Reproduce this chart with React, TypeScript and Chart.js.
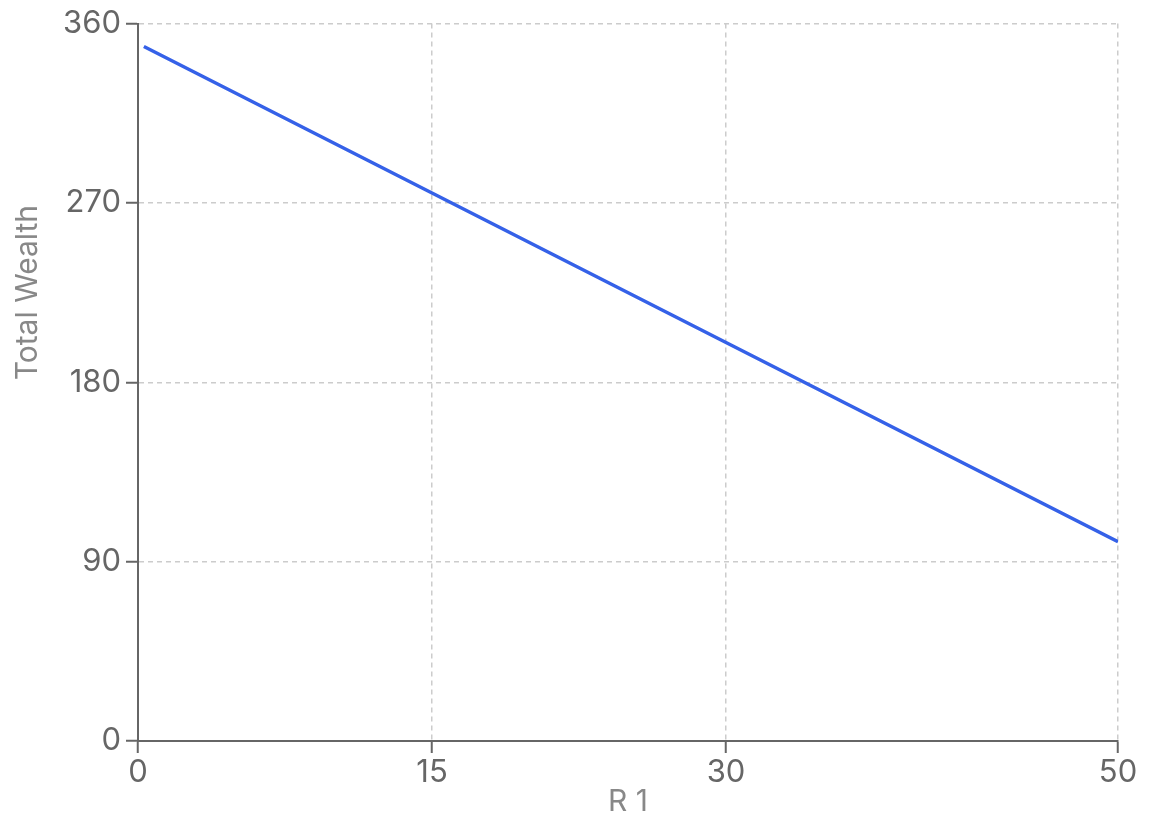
import React, { useEffect, useRef } from "react";
import { Chart, registerables } from "chart.js";

Chart.register(...registerables);

const xValues: number[] = [0.3, 15, 30, 50];
const yValues: number[] = [348.5, 275, 200, 100];
const xTicks: number[] = [0, 15, 30, 50];
const yTicks: number[] = [0, 90, 180, 270, 360];
const xTitle = "R 1";
const yTitle = "Total Wealth";
const yTitleValue = 225; // vertical centre of the y title in data units

const FONT = "Inter, 'Liberation Sans', Arial, sans-serif";

const yTitlePlugin = {
  id: "yTitlePlugin",
  afterDraw(chart: any) {
    const { ctx, scales } = chart;
    const y = scales.y.getPixelForValue(yTitleValue);
    ctx.save();
    ctx.translate(28, y);
    ctx.rotate(-Math.PI / 2);
    ctx.font = `30px ${FONT}`;
    ctx.fillStyle = "#888888";
    ctx.textAlign = "center";
    ctx.textBaseline = "middle";
    ctx.fillText(yTitle, 0, 0);
    ctx.restore();
  },
};

export default function App() {
  const ref = useRef<HTMLCanvasElement | null>(null);

  useEffect(() => {
    document.body.style.margin = "0";
    const canvas = ref.current;
    if (!canvas) return;
    const gridColor = (ctx: any) =>
      ctx.tick && ctx.tick.value === 0 ? "rgba(0,0,0,0)" : "#cccccc";
    const chart = new Chart(canvas, {
      type: "line",
      data: {
        datasets: [
          {
            data: xValues.map((x, i) => ({ x, y: yValues[i] })),
            borderColor: "#3561e8",
            borderWidth: 3.5,
            pointRadius: 0,
            fill: false,
            tension: 0,
          },
        ],
      },
      options: {
        animation: false,
        responsive: true,
        maintainAspectRatio: false,
        layout: { padding: { top: 22, right: 38, left: 0, bottom: 0 } },
        plugins: { legend: { display: false }, tooltip: { enabled: false } },
        scales: {
          x: {
            type: "linear",
            min: 0,
            max: 50,
            afterBuildTicks: (s: any) => {
              s.ticks = xTicks.map((v) => ({ value: v }));
            },
            afterFit: (s: any) => {
              s.height = 93;
            },
            grid: {
              color: gridColor,
              lineWidth: 1.5,
              tickLength: 12,
              tickColor: "#666666",
              tickWidth: 2,
              tickBorderDash: [],
            },
            border: { display: true, color: "#666666", width: 2, dash: [5, 4] },
            ticks: {
              color: "#666666",
              font: { family: FONT, size: 31 },
              padding: 1,
              maxRotation: 0,
              autoSkip: false,
            },
            title: {
              display: true,
              text: xTitle,
              color: "#888888",
              font: { family: FONT, size: 30 },
              padding: { top: 0, bottom: 14 },
            },
          },
          y: {
            type: "linear",
            min: 0,
            max: 360,
            afterBuildTicks: (s: any) => {
              s.ticks = yTicks.map((v) => ({ value: v }));
            },
            afterFit: (s: any) => {
              s.width = 138;
            },
            grid: {
              color: gridColor,
              lineWidth: 1.5,
              tickLength: 12,
              tickColor: "#666666",
              tickWidth: 2,
              tickBorderDash: [],
            },
            border: { display: true, color: "#666666", width: 2, dash: [5, 4] },
            ticks: {
              color: "#666666",
              font: { family: FONT, size: 31 },
              padding: 5,
              autoSkip: false,
            },
            title: { display: false, text: yTitle },
          },
        },
      },
      plugins: [yTitlePlugin],
    });
    return () => chart.destroy();
  }, []);

  return (
    <div style={{ position: "relative", width: 1156, height: 834 }}>
      <canvas ref={ref} />
    </div>
  );
}
